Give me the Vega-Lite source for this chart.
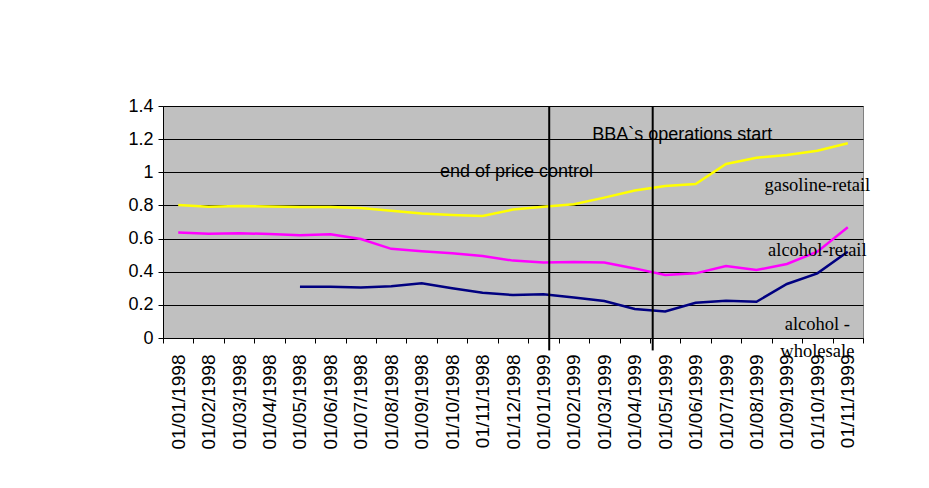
{
  "$schema": "https://vega.github.io/schema/vega-lite/v6.json",
  "width": 700,
  "height": 232,
  "autosize": {"type": "none"},
  "padding": {"left": 163, "top": 106, "right": 66, "bottom": 150},
  "background": "white",
  "config": {
    "view": {"fill": "#C0C0C0", "stroke": "#808080", "strokeWidth": 1},
    "font": "Liberation Sans"
  },
  "datasets": {
    "series": [
      {"month": "01/01/1998", "series": "gasoline-retail", "value": 0.803},
      {"month": "01/02/1998", "series": "gasoline-retail", "value": 0.792},
      {"month": "01/03/1998", "series": "gasoline-retail", "value": 0.797},
      {"month": "01/04/1998", "series": "gasoline-retail", "value": 0.794},
      {"month": "01/05/1998", "series": "gasoline-retail", "value": 0.79},
      {"month": "01/06/1998", "series": "gasoline-retail", "value": 0.79},
      {"month": "01/07/1998", "series": "gasoline-retail", "value": 0.785},
      {"month": "01/08/1998", "series": "gasoline-retail", "value": 0.768},
      {"month": "01/09/1998", "series": "gasoline-retail", "value": 0.752},
      {"month": "01/10/1998", "series": "gasoline-retail", "value": 0.742},
      {"month": "01/11/1998", "series": "gasoline-retail", "value": 0.736},
      {"month": "01/12/1998", "series": "gasoline-retail", "value": 0.775},
      {"month": "01/01/1999", "series": "gasoline-retail", "value": 0.792},
      {"month": "01/02/1999", "series": "gasoline-retail", "value": 0.807},
      {"month": "01/03/1999", "series": "gasoline-retail", "value": 0.847},
      {"month": "01/04/1999", "series": "gasoline-retail", "value": 0.89},
      {"month": "01/05/1999", "series": "gasoline-retail", "value": 0.917},
      {"month": "01/06/1999", "series": "gasoline-retail", "value": 0.929},
      {"month": "01/07/1999", "series": "gasoline-retail", "value": 1.05},
      {"month": "01/08/1999", "series": "gasoline-retail", "value": 1.088},
      {"month": "01/09/1999", "series": "gasoline-retail", "value": 1.104},
      {"month": "01/10/1999", "series": "gasoline-retail", "value": 1.13},
      {"month": "01/11/1999", "series": "gasoline-retail", "value": 1.175},
      {"month": "01/01/1998", "series": "alcohol-retail", "value": 0.636},
      {"month": "01/02/1998", "series": "alcohol-retail", "value": 0.629},
      {"month": "01/03/1998", "series": "alcohol-retail", "value": 0.632},
      {"month": "01/04/1998", "series": "alcohol-retail", "value": 0.628},
      {"month": "01/05/1998", "series": "alcohol-retail", "value": 0.62},
      {"month": "01/06/1998", "series": "alcohol-retail", "value": 0.626},
      {"month": "01/07/1998", "series": "alcohol-retail", "value": 0.597},
      {"month": "01/08/1998", "series": "alcohol-retail", "value": 0.538},
      {"month": "01/09/1998", "series": "alcohol-retail", "value": 0.523},
      {"month": "01/10/1998", "series": "alcohol-retail", "value": 0.511},
      {"month": "01/11/1998", "series": "alcohol-retail", "value": 0.495},
      {"month": "01/12/1998", "series": "alcohol-retail", "value": 0.467},
      {"month": "01/01/1999", "series": "alcohol-retail", "value": 0.455},
      {"month": "01/02/1999", "series": "alcohol-retail", "value": 0.459},
      {"month": "01/03/1999", "series": "alcohol-retail", "value": 0.455},
      {"month": "01/04/1999", "series": "alcohol-retail", "value": 0.42},
      {"month": "01/05/1999", "series": "alcohol-retail", "value": 0.38},
      {"month": "01/06/1999", "series": "alcohol-retail", "value": 0.39},
      {"month": "01/07/1999", "series": "alcohol-retail", "value": 0.435},
      {"month": "01/08/1999", "series": "alcohol-retail", "value": 0.41},
      {"month": "01/09/1999", "series": "alcohol-retail", "value": 0.447},
      {"month": "01/10/1999", "series": "alcohol-retail", "value": 0.521},
      {"month": "01/11/1999", "series": "alcohol-retail", "value": 0.668},
      {"month": "01/05/1998", "series": "alcohol-wholesale", "value": 0.31},
      {"month": "01/06/1998", "series": "alcohol-wholesale", "value": 0.31},
      {"month": "01/07/1998", "series": "alcohol-wholesale", "value": 0.304},
      {"month": "01/08/1998", "series": "alcohol-wholesale", "value": 0.312},
      {"month": "01/09/1998", "series": "alcohol-wholesale", "value": 0.33},
      {"month": "01/10/1998", "series": "alcohol-wholesale", "value": 0.3},
      {"month": "01/11/1998", "series": "alcohol-wholesale", "value": 0.273},
      {"month": "01/12/1998", "series": "alcohol-wholesale", "value": 0.259},
      {"month": "01/01/1999", "series": "alcohol-wholesale", "value": 0.264},
      {"month": "01/02/1999", "series": "alcohol-wholesale", "value": 0.245},
      {"month": "01/03/1999", "series": "alcohol-wholesale", "value": 0.223},
      {"month": "01/04/1999", "series": "alcohol-wholesale", "value": 0.175},
      {"month": "01/05/1999", "series": "alcohol-wholesale", "value": 0.16},
      {"month": "01/06/1999", "series": "alcohol-wholesale", "value": 0.213},
      {"month": "01/07/1999", "series": "alcohol-wholesale", "value": 0.225},
      {"month": "01/08/1999", "series": "alcohol-wholesale", "value": 0.219},
      {"month": "01/09/1999", "series": "alcohol-wholesale", "value": 0.326},
      {"month": "01/10/1999", "series": "alcohol-wholesale", "value": 0.39},
      {"month": "01/11/1999", "series": "alcohol-wholesale", "value": 0.521}
    ],
    "events": [
      {"month": "01/10/1998", "value": 1.004, "label": "end of price control"},
      {"month": "01/03/1999", "value": 1.225, "label": "BBA`s operations start"}
    ],
    "serieslabels": [
      {"month": "01/10/1999", "value": 0.925, "label": "gasoline-retail"},
      {"month": "01/10/1999", "value": 0.529, "label": "alcohol-retail"},
      {"month": "01/10/1999", "value": 0.083, "label": "alcohol -"},
      {"month": "01/10/1999", "value": -0.077, "label": "wholesale"}
    ]
  },
  "layer": [
    {
      "data": {"name": "series"},
      "mark": {"type": "line", "strokeWidth": 2.5},
      "encoding": {
        "x": {
          "field": "month",
          "type": "ordinal",
          "bandPosition": 0.5,
          "scale": {
            "type": "band",
            "paddingInner": 0,
            "paddingOuter": 0,
            "domain": ["01/01/1998", "01/02/1998", "01/03/1998", "01/04/1998", "01/05/1998", "01/06/1998", "01/07/1998", "01/08/1998", "01/09/1998", "01/10/1998", "01/11/1998", "01/12/1998", "01/01/1999", "01/02/1999", "01/03/1999", "01/04/1999", "01/05/1999", "01/06/1999", "01/07/1999", "01/08/1999", "01/09/1999", "01/10/1999", "01/11/1999"]
          },
          "axis": {
            "title": null,
            "labelAngle": -90,
            "labelFontSize": 19,
            "labelColor": "#000",
            "labelOverlap": false,
            "tickBand": "extent",
            "tickSize": 5,
            "tickColor": "#000",
            "domainColor": "#000",
            "labelPadding": 11,
            "grid": false
          }
        },
        "y": {
          "field": "value",
          "type": "quantitative",
          "scale": {"domain": [0, 1.4], "nice": false},
          "axis": {
            "title": null,
            "values": [0, 0.2, 0.4, 0.6, 0.8, 1, 1.2, 1.4],
            "tickCount": 10,
            "format": "~g",
            "grid": true,
            "gridColor": "#000",
            "gridOpacity": 1,
            "gridWidth": 1,
            "domainColor": "#000",
            "tickColor": "#000",
            "tickSize": 5,
            "labelFontSize": 18,
            "labelColor": "#000",
            "labelOverlap": false,
            "labelPadding": 5
          }
        },
        "color": {
          "field": "series",
          "type": "nominal",
          "scale": {"domain": ["gasoline-retail", "alcohol-retail", "alcohol-wholesale"], "range": ["#FFFF00", "#FF00FF", "#000080"]},
          "legend": null
        }
      }
    },
    {
      "data": {"values": [{"month": "01/01/1999", "top": 1.4, "bottom": -0.075}]},
      "mark": {"type": "rule", "strokeWidth": 2, "color": "#000"},
      "encoding": {
        "x": {"field": "month", "type": "ordinal", "bandPosition": 0.69},
        "y": {"field": "top", "type": "quantitative"},
        "y2": {"field": "bottom"}
      }
    },
    {
      "data": {"values": [{"month": "01/05/1999", "top": 1.4, "bottom": -0.075}]},
      "mark": {"type": "rule", "strokeWidth": 2, "color": "#000"},
      "encoding": {
        "x": {"field": "month", "type": "ordinal", "bandPosition": 0.09},
        "y": {"field": "top", "type": "quantitative"},
        "y2": {"field": "bottom"}
      }
    },
    {
      "data": {"name": "events"},
      "mark": {"type": "text", "align": "left", "baseline": "middle", "font": "Liberation Sans", "fontSize": 18, "color": "#000"},
      "encoding": {
        "x": {"field": "month", "type": "ordinal", "bandPosition": 0.1},
        "y": {"field": "value", "type": "quantitative"},
        "text": {"field": "label"}
      }
    },
    {
      "data": {"name": "serieslabels"},
      "mark": {"type": "text", "align": "center", "baseline": "middle", "font": "Liberation Serif", "fontSize": 18.5, "color": "#000"},
      "encoding": {
        "x": {"field": "month", "type": "ordinal", "bandPosition": 0.5},
        "y": {"field": "value", "type": "quantitative"},
        "text": {"field": "label"}
      }
    }
  ]
}
